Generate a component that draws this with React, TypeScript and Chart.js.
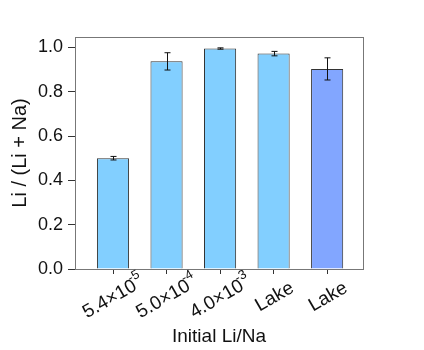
import React, { useEffect, useRef } from "react";
import { Chart, registerables } from "chart.js";

Chart.register(...registerables);

const categoryBases = ["5.4×10", "5.0×10", "4.0×10", "Lake", "Lake"];
const categoryExps = ["-5", "-4", "-3", "", ""];
const values = [0.5, 0.937, 0.995, 0.972, 0.903];
const errors = [0.008, 0.039, 0.003, 0.01, 0.05];
const barColors = ["#82CFFF", "#82CFFF", "#82CFFF", "#82CFFF", "#82A6FF"];
const yTicks = [0, 0.2, 0.4, 0.6, 0.8, 1.0];

const FONT = "'Liberation Sans', Arial, sans-serif";

const errorBarPlugin = {
  id: "errorBars",
  afterDatasetsDraw(chart: any) {
    const ctx = chart.ctx;
    const xs = chart.scales.x;
    const ys = chart.scales.y;
    ctx.save();
    ctx.strokeStyle = "#111";
    ctx.lineWidth = 1;
    values.forEach((v, i) => {
      const x = Math.round(xs.getPixelForValue(i)) + 0.5;
      const yTop = ys.getPixelForValue(v + errors[i]);
      const yBot = ys.getPixelForValue(v - errors[i]);
      ctx.beginPath();
      ctx.moveTo(x, yTop);
      ctx.lineTo(x, yBot);
      ctx.moveTo(x - 3, yTop);
      ctx.lineTo(x + 3, yTop);
      ctx.moveTo(x - 3, yBot);
      ctx.lineTo(x + 3, yBot);
      ctx.stroke();
    });
    ctx.restore();
  },
};

const framePlugin = {
  id: "frame",
  beforeDatasetsDraw(chart: any) {
    const { ctx, chartArea } = chart;
    ctx.save();
    ctx.strokeStyle = "#777";
    ctx.lineWidth = 1;
    ctx.strokeRect(
      Math.round(chartArea.left) + 0.5,
      Math.round(chartArea.top) + 0.5,
      Math.round(chartArea.right - chartArea.left),
      Math.round(chartArea.bottom - chartArea.top)
    );
    ctx.restore();
  },
};

const xLabelPlugin = {
  id: "xLabels",
  afterDraw(chart: any) {
    const { ctx, chartArea } = chart;
    const xs = chart.scales.x;
    ctx.save();
    ctx.fillStyle = "#111";
    ctx.textBaseline = "middle";
    ctx.textAlign = "left";
    categoryBases.forEach((base, i) => {
      const exp = categoryExps[i];
      ctx.font = `19px ${FONT}`;
      const bw = ctx.measureText(base).width;
      ctx.font = `13px ${FONT}`;
      const ew = exp ? ctx.measureText(exp).width - 2 : 0;
      const total = bw + ew;
      const cx = xs.getPixelForValue(i) + 1;
      const cy = chartArea.bottom + 28;
      ctx.save();
      ctx.translate(cx, cy);
      ctx.rotate((-30 * Math.PI) / 180);
      ctx.font = `19px ${FONT}`;
      ctx.fillText(base, -total / 2, 0);
      if (exp) {
        ctx.font = `13px ${FONT}`;
        ctx.fillText(exp, -total / 2 + bw - 3, -8);
      }
      ctx.restore();
    });
    ctx.restore();
  },
};

export default function App() {
  const ref = useRef<HTMLCanvasElement>(null);
  useEffect(() => {
    if (!ref.current) return;
    const chart = new Chart(ref.current, {
      type: "bar",
      data: {
        datasets: [
          {
            data: values.map((v, i) => ({ x: i, y: v })),
            backgroundColor: barColors,
            borderColor: "#333",
            borderWidth: 1,
            barPercentage: 0.6,
            categoryPercentage: 1,
          },
        ],
      },
      plugins: [framePlugin, errorBarPlugin, xLabelPlugin],
      options: {
        responsive: false,
        animation: false,
        layout: { padding: { top: 37, right: 61, left: 0, bottom: 0 } },
        plugins: { legend: { display: false }, tooltip: { enabled: false } },
        scales: {
          x: {
            type: "linear",
            offset: false,
            min: -0.71,
            max: 4.67,
            afterBuildTicks: (s: any) => {
              s.ticks = categoryBases.map((_, i) => ({ value: i }));
            },
            afterFit: (s: any) => {
              s.height = 81;
            },
            grid: {
              drawOnChartArea: false,
              offset: false,
              tickLength: 5,
              tickColor: "#333",
            },
            border: { color: "#333" },
            ticks: {
              autoSkip: false,
              maxRotation: 0,
              minRotation: 0,
              color: "#111",
              font: { family: FONT, size: 18 },
              callback: () => "",
            },
            title: {
              display: true,
              text: "Initial Li/Na",
              color: "#111",
              font: { family: FONT, size: 19 },
              padding: { top: 0, bottom: 2 },
            },
          },
          y: {
            min: 0,
            max: 1.047,
            afterBuildTicks: (s: any) => {
              s.ticks = yTicks.map((v) => ({ value: v }));
            },
            afterFit: (s: any) => {
              s.width = 75;
            },
            grid: {
              drawOnChartArea: false,
              tickLength: 7,
              tickColor: "#333",
            },
            border: { color: "#333" },
            ticks: {
              padding: 5,
              color: "#111",
              font: { family: FONT, size: 18 },
              callback: (v: any) => Number(v).toFixed(1),
            },
            title: {
              display: true,
              text: "Li / (Li + Na)",
              color: "#111",
              font: { family: FONT, size: 20 },
              padding: { top: 8, bottom: 0 },
            },
          },
        },
      },
    });
    return () => chart.destroy();
  }, []);
  return (
    <div style={{ position: "fixed", left: 0, top: 0, width: 424, height: 350, background: "#fff" }}>
      <canvas ref={ref} width={424} height={350} style={{ display: "block" }} />
    </div>
  );
}
